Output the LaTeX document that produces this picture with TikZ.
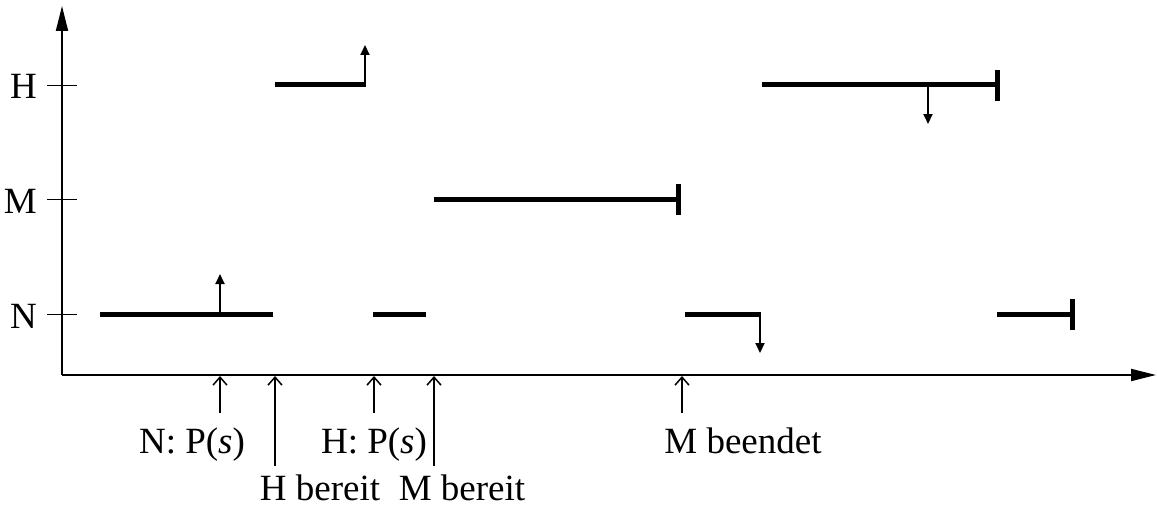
\documentclass[tikz,border=0pt]{standalone}
\usepackage{fontspec}
\setmainfont{Liberation Serif}
\usetikzlibrary{arrows.meta}
\begin{document}
\begin{tikzpicture}[x=1pt,y=-1pt,
  axis/.style={line width=1.8pt,-{Triangle[length=25pt,width=12pt]}},
  tickline/.style={line width=0.9pt},
  bar/.style={line width=5pt},
  endbar/.style={line width=5pt},
  sig/.style={line width=2pt,-{Triangle[length=10pt,width=9pt]}},
  evarrow/.style={line width=1.8pt,-{Straight Barb[length=8pt,width=14pt,line width=1.5pt]}},
  lbl/.style={font=\fontsize{37pt}{42pt}\selectfont,inner sep=0pt,anchor=base}]
\useasboundingbox (0,0) rectangle (1157,511);
% axes
\coordinate (O) at (62,375);
\coordinate (Ytop) at (62,6);
\coordinate (Xend) at (1156,375);
\draw[axis] (O) -- (Ytop);
\draw[axis] (O) -- (Xend);
% ticks and labels
\foreach \n/\y in {H/85,M/199,N/314}{
  \draw[tickline] (47,\y) -- (77,\y);
  \node[lbl,anchor=base east] (lab\n) at (37,\y+14) {\n};
}
% N segments
\draw[bar] (100,314) -- (273,314);
\draw[sig] (220,314) -- (220,274);
\draw[bar] (373,314) -- (426,314);
\draw[bar] (685,314) -- (760,314);
\draw[sig] (760,312) -- (760,353);
\draw[bar] (997,314) -- (1072,314);
\draw[endbar] (1072,299) -- (1072,330);
% H segments
\draw[bar] (275,85) -- (365,85);
\draw[sig] (365,87) -- (365,45);
\draw[bar] (762,85) -- (997,85);
\draw[endbar] (997,70) -- (997,101);
\draw[sig] (928,85) -- (928,124);
% M segment
\draw[bar] (434,199) -- (678,199);
\draw[endbar] (678,184) -- (678,215);
% annotations
\coordinate (a1) at (220,413); \coordinate (a1t) at (220,376);
\coordinate (a2) at (275,466); \coordinate (a2t) at (275,376);
\coordinate (a3) at (374,413); \coordinate (a3t) at (374,376);
\coordinate (a4) at (434,466); \coordinate (a4t) at (434,376);
\coordinate (a5) at (682,413); \coordinate (a5t) at (682,376);
\draw[evarrow] (a1) -- (a1t);
\draw[evarrow] (a2) -- (a2t);
\draw[evarrow] (a3) -- (a3t);
\draw[evarrow] (a4) -- (a4t);
\draw[evarrow] (a5) -- (a5t);
\node[lbl] (t1) at (192,453) {N: P(\textit{s})};
\node[lbl] (t2) at (320,500) {H bereit};
\node[lbl] (t3) at (374,453) {H: P(\textit{s})};
\node[lbl] (t4) at (462,500) {M bereit};
\node[lbl] (t5) at (743,453) {M beendet};
\end{tikzpicture}
\end{document}
